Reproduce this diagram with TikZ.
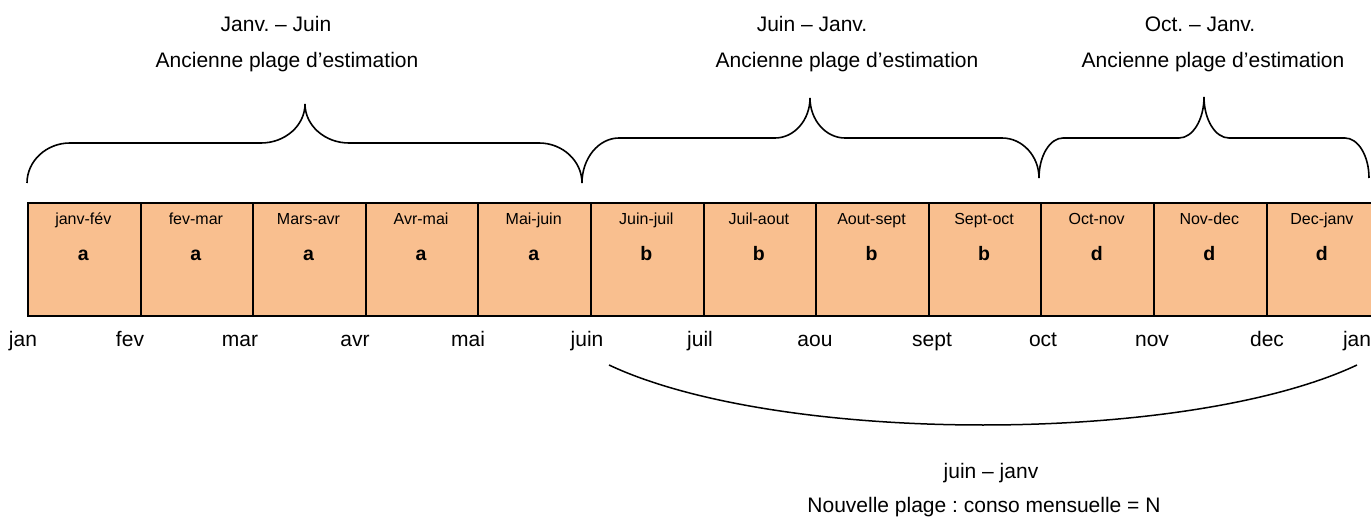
\documentclass[tikz,border=0pt]{standalone}
\usepackage{fontspec}
\setmainfont{Liberation Sans}
\definecolor{cellfill}{RGB}{249,191,143}
\frenchspacing

% Curly brace opening downwards: left end, right end, level of the flat
% parts, tip, widths of the end corners and of the tip corners.
\newcommand{\drawtopbrace}[9]{%
  \draw[bracepen] (#1,#2)
    .. controls (#1,{#2-0.55*(#2-#5)}) and ({#1+0.45*#8},#5) .. ({#1+#8},#5)
    -- ({#6-#9},#5)
    .. controls ({#6-0.45*#9},#5) and (#6,{#7+0.55*(#5-#7)}) .. (#6,#7)
    .. controls (#6,{#7+0.55*(#5-#7)}) and ({#6+0.45*#9},#5) .. ({#6+#9},#5)
    -- ({#3-#8},#5)
    .. controls ({#3-0.45*#8},#5) and (#3,{#4-0.55*(#4-#5)}) .. (#3,#4);}

\begin{document}
\begin{tikzpicture}[x=1pt,y=-1pt,
  cell/.style={draw=black,line width=2pt,fill=cellfill,
    minimum width=112.6pt,minimum height=113pt,inner sep=0pt,anchor=north west},
  period/.style={anchor=base,inner sep=0pt,font=\fontsize{16}{19}\selectfont},
  code/.style={anchor=base,inner sep=0pt,font=\fontsize{19.5}{22}\selectfont\bfseries},
  txt/.style={anchor=base,inner sep=0pt,font=\fontsize{21}{25}\selectfont},
  bracepen/.style={draw=black,line width=1.6pt},
  arcpen/.style={draw=black,line width=1.5pt}]
\useasboundingbox (0,0) rectangle (1371,521);

% two-month cells with their estimation code
\foreach \lab/\cod [count=\i] in {janv-fév/a,fev-mar/a,Mars-avr/a,Avr-mai/a,
    Mai-juin/a,Juin-juil/b,Juil-aout/b,Aout-sept/b,Sept-oct/b,Oct-nov/d,
    Nov-dec/d,Dec-janv/d}{
  \node[cell] (c\i) at ({27+112.6*(\i-1)},202) {};
  \node[period] (p\i) at ({27+112.6*(\i-0.5)},225) {\lab};
  \node[code] (k\i) at ({27+112.6*(\i-0.5)},261) {\cod};
}

% month boundaries
\foreach \m/\x [count=\j] in {jan/23,fev/130,mar/240,avr/355,mai/468,juin/587,
    juil/700,aou/815,sept/932,oct/1043,nov/1152,dec/1267,jan/1357}{
  \node[txt] (m\j) at (\x,347) {\m};
}

% former estimation ranges
\drawtopbrace{27}{183}{582}{183}{143}{305}{104}{43}{44}
\drawtopbrace{582}{183}{1039}{178}{138}{810}{98}{37}{35}
\drawtopbrace{1039}{178}{1369}{178}{138}{1204}{97}{24}{25}

\node[txt] (r1a) at (276,31.5) {Janv. – Juin};
\node[txt] (r1b) at (287,68) {Ancienne plage d’estimation};
\node[txt] (r2a) at (812,31.5) {Juin – Janv.};
\node[txt] (r2b) at (847,68) {Ancienne plage d’estimation};
\node[txt] (r3a) at (1200,31.5) {Oct. – Janv.};
\node[txt] (r3b) at (1213,68) {Ancienne plage d’estimation};

% new estimation range
\coordinate (nl) at (609,365);
\coordinate (nr) at (1357,365);
\draw[arcpen] (nl) .. controls (779,445) and (1187,445) .. (nr);
\node[txt] (n1) at (991,478) {juin – janv};
\node[txt] (n2) at (984,512) {Nouvelle plage : conso mensuelle = N};
\end{tikzpicture}
\end{document}
